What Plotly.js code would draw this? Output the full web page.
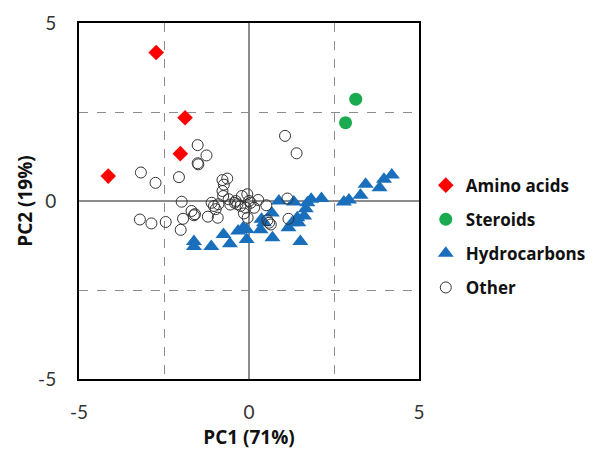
<!DOCTYPE html>
<html>
<head>
<meta charset="utf-8">
<script src="https://cdn.plot.ly/plotly-3.0.1.min.js"></script>
<style>html,body{margin:0;padding:0;background:#fff;}#chart{width:603px;height:454px;}</style>
</head>
<body>
<div id="chart"></div>
<script>
// Amino acids
var aminoX = [-2.73, -1.88, -2.02, -4.14];
var aminoY = [4.17, 2.34, 1.33, 0.70];
// Steroids
var steroidX = [3.14, 2.84];
var steroidY = [2.86, 2.20];
// Hydrocarbons
var hydroX = [-1.62, -1.62, -1.11, -0.75, -0.56, -0.32, -0.17, -0.07, -0.07, 0.34, 0.37, 0.44, 0.69, 0.67, 0.88, 1.32, 1.16, 1.27, 1.45, 1.42, 1.51, 1.62, 1.67, 1.72, 1.83, 2.13, 2.79, 2.94, 3.28, 3.43, 3.84, 3.97, 4.20];
var hydroY = [-1.14, -1.28, -1.28, -0.94, -1.20, -0.84, -0.75, -1.08, -0.80, -0.81, -0.51, -0.61, -1.03, -0.34, 0.00, -0.03, -0.75, -0.61, -0.61, -0.47, -1.14, -0.42, -0.22, -0.05, 0.05, 0.07, -0.03, 0.03, 0.16, 0.47, 0.37, 0.61, 0.73];
// Other
var otherX = [1.06, 1.40, -1.51, -1.25, -1.51, -1.49, -3.18, -2.75, -2.06, -0.78, -0.64, -0.74, -0.78, -0.76, -1.98, -3.21, -2.87, -2.45, -2.01, -1.94, -1.69, -1.59, -1.62, -1.21, -0.92, -1.03, -0.98, -0.90, -0.42, -0.34, -0.25, -0.39, -0.21, -0.05, 0.00, 0.05, 0.27, 0.15, -0.10, -0.04, 0.51, 0.59, 0.64, 0.54, 1.13, 1.16, -0.55, -0.15, -1.10, -0.60];
var otherY = [1.83, 1.34, 1.57, 1.28, 1.06, 1.03, 0.80, 0.51, 0.67, 0.59, 0.63, 0.46, 0.28, 0.14, -0.02, -0.52, -0.63, -0.59, -0.81, -0.50, -0.28, -0.37, -0.40, -0.44, -0.47, -0.14, -0.23, -0.09, -0.05, -0.09, -0.14, 0.00, 0.14, 0.19, 0.00, -0.05, 0.03, -0.19, -0.19, -0.47, -0.12, -0.61, -0.66, -0.54, 0.07, -0.50, -0.10, -0.35, -0.05, 0.05];

var tickVals = [-5, -2.5, 0, 2.5, 5];
var tickText = ['-5', '', '0', '', '5'];

var traces = [
  {x: aminoX, y: aminoY, name: 'Amino acids', legendgroup: 'a', mode: 'markers', type: 'scatter',
   marker: {symbol: 'diamond', size: 12, color: '#ff0000'}},
  {x: steroidX, y: steroidY, name: 'Steroids', legendgroup: 's', mode: 'markers', type: 'scatter',
   marker: {symbol: 'circle', size: 13, color: '#1aaa50'}},
  {x: hydroX, y: hydroY, name: 'Hydrocarbons', legendgroup: 'h', mode: 'markers', type: 'scatter',
   marker: {symbol: 'triangle-up', size: 14, color: '#1a6fbd'}},
  {x: otherX, y: otherY, name: 'Other', legendgroup: 'o', mode: 'markers', type: 'scatter',
   marker: {symbol: 'circle-open', size: 11, color: '#333333', line: {width: 1}}}
];

var axisCommon = {
  range: [-5, 5], tickvals: tickVals, ticktext: tickText,
  showgrid: true, gridcolor: '#8c8c8c', griddash: 'dash', gridwidth: 1,
  zeroline: true, zerolinecolor: '#8c8c8c', zerolinewidth: 1.5,
  showline: true, linecolor: '#000', linewidth: 2, mirror: true,
  ticks: 'outside', tickcolor: 'rgba(0,0,0,0)', fixedrange: true,
  tickfont: {family: 'Lato, "Open Sans", sans-serif', size: 19, color: '#333'}
};

var titleFont = {family: '"Open Sans", Lato, sans-serif', size: 19, color: '#111', weight: 'bold'};

var layout = {
  width: 603, height: 454,
  margin: {l: 79, r: 184, t: 23, b: 75},
  paper_bgcolor: '#fff', plot_bgcolor: '#fff',
  showlegend: true,
  xaxis: Object.assign({}, axisCommon, {
    ticklen: 15,
    title: {text: 'PC1 (71%)', standoff: 9, font: titleFont}
  }),
  yaxis: Object.assign({}, axisCommon, {
    ticklen: 17,
    title: {text: 'PC2 (19%)', standoff: 0, font: titleFont}
  }),
  legend: {
    x: 1.02, xanchor: 'left', y: 0.40, yanchor: 'middle',
    font: {family: '"Open Sans", Lato, sans-serif', size: 17, color: '#111', weight: 'bold'},
    tracegroupgap: 9, itemwidth: 30, bgcolor: 'rgba(0,0,0,0)'
  }
};

Plotly.newPlot('chart', traces, layout, {displayModeBar: false, staticPlot: true});
</script>
</body>
</html>
